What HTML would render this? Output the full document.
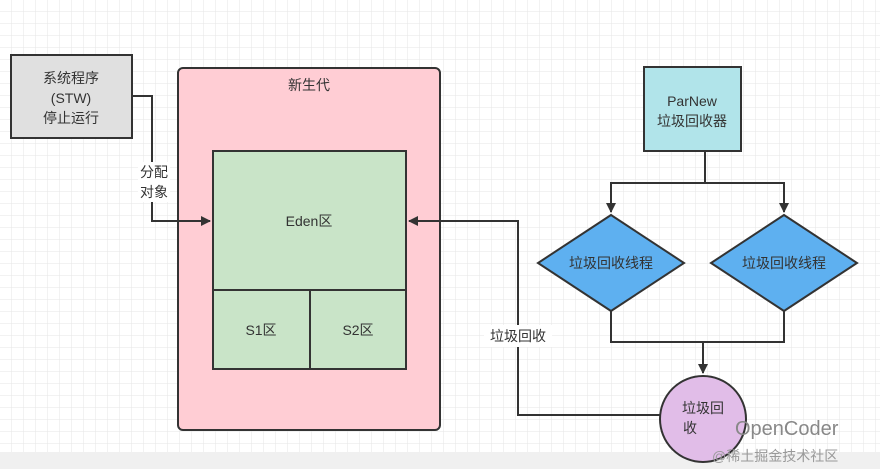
<!DOCTYPE html>
<html><head><meta charset="utf-8"><style>
body{margin:0;width:880px;height:469px;overflow:hidden;background:#fff;font-family:"Liberation Sans","Noto Sans CJK SC",sans-serif}
</style></head><body>
<svg width="880" height="469" xmlns="http://www.w3.org/2000/svg" font-family="Liberation Sans, Noto Sans CJK SC, sans-serif">
<defs>
<pattern id="g" width="12" height="12" patternUnits="userSpaceOnUse"><path d="M12 0V12H0" fill="none" stroke="#e6e6e6" stroke-width="1"/></pattern>
<marker id="a" markerWidth="10" markerHeight="10" refX="9" refY="5" orient="auto" markerUnits="userSpaceOnUse"><path d="M0 0L10 5L0 10Z" fill="#333"/></marker>
</defs>
<rect width="880" height="469" fill="url(#g)"/>
<rect y="452" width="880" height="17" fill="#f0f0f0"/>
<rect x="11" y="55" width="121" height="83" fill="#e0e0e0" stroke="#333" stroke-width="2"/>
<rect x="178" y="68" width="262" height="362" rx="5" fill="#ffcdd4" stroke="#333" stroke-width="2"/>
<rect x="213" y="151" width="193" height="139" fill="#c9e4c8" stroke="#333" stroke-width="2"/>
<rect x="213" y="290" width="97" height="79" fill="#c9e4c8" stroke="#333" stroke-width="2"/>
<rect x="310" y="290" width="96" height="79" fill="#c9e4c8" stroke="#333" stroke-width="2"/>
<rect x="644" y="67" width="97" height="84" fill="#b1e4ea" stroke="#333" stroke-width="2"/>
<path d="M611 215L684 263L611 311L538 263Z" fill="#5eb0f0" stroke="#333" stroke-width="2"/>
<path d="M784 215L857 263L784 311L711 263Z" fill="#5eb0f0" stroke="#333" stroke-width="2"/>
<g stroke="#333" stroke-width="2" fill="none">
<path d="M132 96H152V221H210" marker-end="url(#a)"/>
<path d="M660 415H518V221H409" marker-end="url(#a)"/>
<path d="M705 151V183H611V212" marker-end="url(#a)"/>
<path d="M705 183H784V212" marker-end="url(#a)"/>
<path d="M611 311V342H784V311"/>
<path d="M703 342V373" marker-end="url(#a)"/>
</g>
<circle cx="703" cy="419" r="43" fill="#e1bde8" stroke="#333" stroke-width="2"/>
<rect x="138" y="162" width="32" height="40" fill="#fff"/>
<rect x="484" y="325" width="68" height="22" fill="#fff"/>
<g font-size="14" fill="#333" text-anchor="middle">
<text x="71" y="83">系统程序</text><text x="71" y="103">(STW)</text><text x="71" y="123">停止运行</text>
<text x="154" y="177">分配</text><text x="154" y="197">对象</text>
<text x="309" y="90">新生代</text>
<text x="309" y="226">Eden区</text>
<text x="261" y="335">S1区</text><text x="358" y="335">S2区</text>
<text x="692" y="106">ParNew</text><text x="692" y="126">垃圾回收器</text>
<text x="611" y="268">垃圾回收线程</text><text x="784" y="268">垃圾回收线程</text>
<text x="518" y="341">垃圾回收</text>
<text x="703" y="413">垃圾回</text><text x="690" y="433">收</text>
</g>
<text x="735" y="435" font-size="20" fill="#888">OpenCoder</text>
<text x="712" y="461" font-size="14" fill="#999">@稀土掘金技术社区</text>
</svg>
</body></html>
